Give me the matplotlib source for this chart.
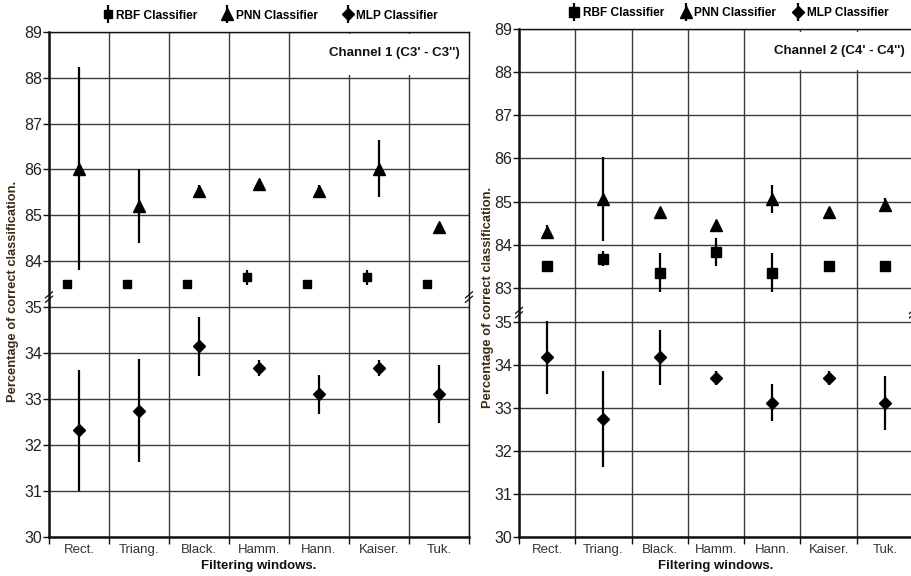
import matplotlib
matplotlib.use("Agg")
import matplotlib.pyplot as plt
import numpy as np
from matplotlib.patches import Rectangle
from matplotlib.lines import Line2D
from matplotlib.legend_handler import HandlerErrorbar
from matplotlib.container import ErrorbarContainer

plt.rcParams["font.family"] = ["Liberation Sans", "DejaVu Sans"]

windows = ["Rect.", "Triang.", "Black.", "Hamm.", "Hann.", "Kaiser.", "Tuk."]
classifiers = ["RBF Classifier", "PNN Classifier", "MLP Classifier"]

# Channel 1 (C3' - C3'')
ch1_rbf = [83.5, 83.5, 83.5, 83.65, 83.5, 83.65, 83.5]
ch1_rbf_err = [0, 0, 0, 0.17, 0, 0.17, 0]
ch1_pnn = [86.02, 85.2, 85.52, 85.68, 85.52, 86.02, 84.74]
ch1_pnn_err = [2.22, 0.8, 0.15, 0, 0.15, 0.63, 0]
ch1_mlp = [32.32, 32.74, 34.15, 33.68, 33.1, 33.68, 33.1]
ch1_mlp_err = [1.32, 1.12, 0.64, 0.17, 0.43, 0.17, 0.63]

# Channel 2 (C4' - C4'')
ch2_rbf = [83.5, 83.67, 83.35, 83.83, 83.35, 83.5, 83.5]
ch2_rbf_err = [0, 0.17, 0.45, 0.32, 0.45, 0, 0]
ch2_pnn = [84.29, 85.06, 84.76, 84.45, 85.06, 84.76, 84.91]
ch2_pnn_err = [0.16, 0.97, 0, 0, 0.32, 0, 0.16]
ch2_mlp = [34.18, 32.75, 34.18, 33.7, 33.12, 33.7, 33.12]
ch2_mlp_err = [0.85, 1.12, 0.64, 0.17, 0.43, 0.17, 0.62]

ch1_ticks = [30, 31, 32, 33, 34, 35, 84, 85, 86, 87, 88, 89]
ch2_ticks = [30, 31, 32, 33, 34, 35, 83, 84, 85, 86, 87, 88, 89]

W, H = 912, 576
fig = plt.figure(figsize=(W / 100, H / 100), dpi=100)

INK = "#111111"
GRID = "#3c3c3c"


def broken_scale(offset):
    # lower block 30..35 and upper block 83/84..89 on one continuous axis
    def fwd(v):
        v = np.asarray(v, dtype=float)
        return np.where(v > 60, v - offset, v - 30)

    def inv(u):
        u = np.asarray(u, dtype=float)
        return np.where(u > 5.0, u + offset, u + 30)

    return fwd, inv


def break_marks(ax, yfrac, xfrac):
    bb = ax.get_position()
    wpx, hpx = bb.width * W, bb.height * H
    dx, dy = 3.5 / wpx, 3.0 / hpx
    for off in (-2.2, 2.2):
        yo = off / hpx
        ax.add_line(Line2D([xfrac - dx, xfrac + dx], [yfrac + yo - dy, yfrac + yo + dy],
                           transform=ax.transAxes, color=INK, lw=0.9, clip_on=False, zorder=5))


def panel(rect, offset, ticks, rbf, rbf_err, pnn, pnn_err, mlp, mlp_err,
          rbf_shift, title, sq_ms, leg_x, leg_space, ylab_xy):
    ax = fig.add_axes(rect)
    fwd, inv = broken_scale(offset)
    ax.set_yscale("function", functions=(fwd, inv))
    x = np.arange(len(windows))

    kw = dict(color="black", ecolor="black", elinewidth=1.6, capsize=0, linestyle="none", zorder=4)
    ax.errorbar(x + rbf_shift, rbf, yerr=rbf_err, fmt="s", ms=sq_ms, label=classifiers[0], **kw)
    ax.errorbar(x, pnn, yerr=pnn_err, fmt="^", ms=9, label=classifiers[1], **kw)
    ax.errorbar(x, mlp, yerr=mlp_err, fmt="D", ms=6.5, label=classifiers[2], **kw)

    ax.set_xlim(-0.5, len(windows) - 0.5)
    ax.set_ylim(30, 89)
    ax.set_yticks(ticks)
    ax.set_yticklabels([str(t) for t in ticks], fontsize=11.5, color="#222222")
    ax.set_xticks(x)
    ax.set_xticklabels(windows, fontsize=9.5, color="#333333")
    ax.set_xticks(np.arange(len(windows) + 1) - 0.5, minor=True)
    ax.tick_params(axis="x", which="major", length=0, pad=5)
    ax.tick_params(axis="x", which="minor", length=5, width=1, color=INK, direction="out")
    ax.tick_params(axis="y", length=4, width=1, color=INK, pad=1)

    ax.set_axisbelow(True)
    ax.grid(True, axis="y", which="major", color=GRID, lw=1.0)
    ax.grid(True, axis="x", which="minor", color=GRID, lw=1.0)

    for side in ("left", "bottom"):
        ax.spines[side].set_linewidth(1.8)
    for side in ("top", "right"):
        ax.spines[side].set_linewidth(1.0)
    for s in ax.spines.values():
        s.set_color(INK)

    # white patch behind the channel caption, between the two top grid lines
    ax.add_patch(Rectangle((4.2, 88.06), 2.3, 0.88, facecolor="white", edgecolor="none", zorder=1.5))
    ax.text(0.978, 0.958, title, transform=ax.transAxes, ha="right", va="center",
            fontsize=9.5, fontweight="bold", color=INK, zorder=3)

    ax.set_ylabel("Percentage of correct classification.", fontsize=9.3, fontweight="bold",
                  color="#3b2b14")
    ax.yaxis.set_label_coords(*ylab_xy)
    ax.set_xlabel("Filtering windows.", fontsize=9.5, fontweight="bold", color=INK, labelpad=3)

    ax.legend(loc="center left", bbox_to_anchor=(leg_x, 1.032), ncol=3, frameon=False,
              handlelength=0.8, handletextpad=0.3, columnspacing=leg_space,
              borderpad=0, borderaxespad=0, prop={"weight": "bold", "size": 8.6},
              handler_map={ErrorbarContainer: HandlerErrorbar(xerr_size=0.5, yerr_size=0.75)})

    yb = (fwd(35) + 0.22) / fwd(89)
    break_marks(ax, float(yb), 0.0)
    break_marks(ax, float(yb), 1.0)
    return ax


panel([49 / W, 1 - 536.7 / H, 420 / W, 505 / H], 78.0, ch1_ticks,
      ch1_rbf, ch1_rbf_err, ch1_pnn, ch1_pnn_err, ch1_mlp, ch1_mlp_err,
      -0.2, "Channel 1 (C3' - C3'')", 6, 0.128, 2.12, (-0.071, 0.485))
panel([519 / W, 1 - 537.3 / H, 394 / W, 508 / H], 77.2, ch2_ticks,
      ch2_rbf, ch2_rbf_err, ch2_pnn, ch2_pnn_err, ch2_mlp, ch2_mlp_err,
      0.0, "Channel 2 (C4' - C4'')", 7, 0.128, 1.45, (-0.064, 0.473))

fig.savefig("out.png", dpi=100)
